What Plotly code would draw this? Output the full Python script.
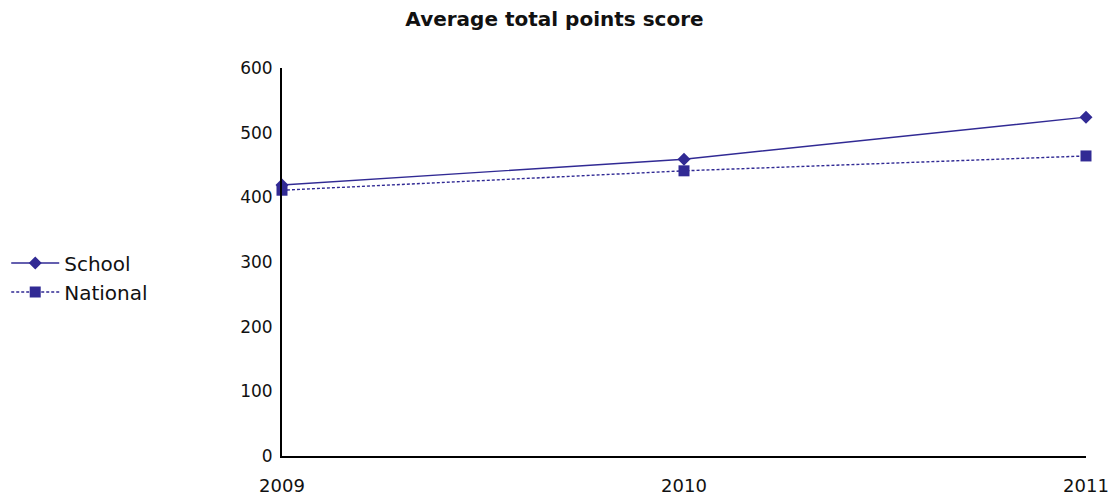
import plotly.graph_objects as go

years = [2009, 2010, 2011]
school = [419, 459, 524]
national = [411, 441, 464]
y_ticks = [0, 100, 200, 300, 400, 500, 600]

color = "#312a94"

fig = go.Figure()
fig.add_trace(go.Scatter(
    x=years, y=school, name="School", mode="lines+markers",
    line=dict(color=color, width=1.4),
    marker=dict(symbol="diamond", size=10, color=color),
    cliponaxis=False,
))
fig.add_trace(go.Scatter(
    x=years, y=national, name="National", mode="lines+markers",
    line=dict(color=color, width=1.4, dash="3px,2px"),
    marker=dict(symbol="square", size=11, color=color),
    cliponaxis=False,
))

fig.update_layout(
    width=1109, height=498,
    margin=dict(l=282, r=23, t=68, b=42, autoexpand=False),
    paper_bgcolor="white", plot_bgcolor="white",
    font=dict(family="DejaVu Sans", color="#111111", size=16),
    title=dict(text="<b>Average total points score</b>", x=0.5, xref="container",
               xanchor="center", y=0.962, yanchor="middle",
               font=dict(size=20, family="DejaVu Sans", color="#111111")),
    showlegend=True,
    legend=dict(x=-0.343, xanchor="left", y=0.46, yanchor="middle",
                font=dict(size=20, color="#111111"), tracegroupgap=0,
                itemwidth=48, bgcolor="rgba(0,0,0,0)"),
    xaxis=dict(range=[2009, 2011], tickvals=years, ticktext=[str(y) for y in years],
               showgrid=False, zeroline=False, showline=True, linecolor="black",
               linewidth=2, ticks="", ticklabelstandoff=12,
               tickfont=dict(size=18)),
    yaxis=dict(range=[0, 600], tickvals=y_ticks, showgrid=False, zeroline=False,
               showline=True, linecolor="black", linewidth=2, ticks="",
               ticklabelstandoff=4, tickfont=dict(size=17)),
)

fig.write_html(
    "out.html",
    config={"displayModeBar": False},
    post_script="document.body.style.margin='0';document.body.style.overflow='hidden';",
)
